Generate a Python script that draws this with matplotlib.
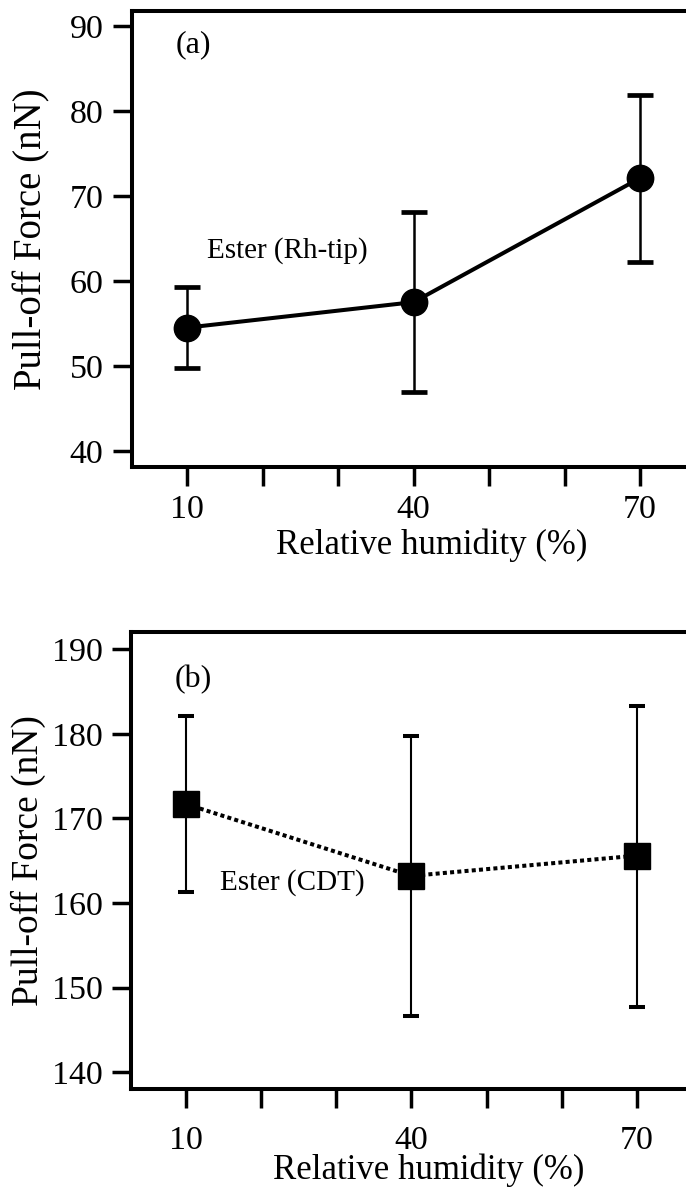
import matplotlib
matplotlib.use("Agg")
import matplotlib.pyplot as plt
import numpy as np

# ---- data ----
humidity = [10, 40, 70]
xtick_positions = [10, 20, 30, 40, 50, 60, 70]
xtick_labels = ["10", "", "", "40", "", "", "70"]

rh_mean = [54.5, 57.5, 72.1]
rh_low = [49.8, 46.9, 62.2]
rh_high = [59.3, 68.1, 81.9]
rh_yticks = [40, 50, 60, 70, 80, 90]

cdt_mean = [171.7, 163.2, 165.6]
cdt_low = [161.3, 146.6, 147.7]
cdt_high = [182.1, 179.8, 183.3]
cdt_yticks = [140, 150, 160, 170, 180, 190]

plt.rcParams['font.family'] = ['Liberation Serif', 'DejaVu Serif']
TICK_FS = 24.5
XLAB_FS = 25
ANN_FS = 21

fig = plt.figure(figsize=(6.86, 11.87), dpi=100)

def style_axes(ax, xpad):
    for s in ax.spines.values():
        s.set_linewidth(2.9)
    ax.tick_params(axis='both', direction='out', length=13.5, width=2.5,
                   labelsize=TICK_FS)
    ax.tick_params(axis='y', pad=7)
    ax.tick_params(axis='x', pad=xpad)
    ax.set_xticks(xtick_positions)
    ax.set_xticklabels(xtick_labels)
    ax.set_xlim(2.7, 80)

# ---- panel (a) ----
ax1 = fig.add_axes([0.1924, 0.6066, 0.8508, 0.3844])
style_axes(ax1, 6.5)
m = np.array(rh_mean)
yerr = [m - np.array(rh_low), np.array(rh_high) - m]
ax1.plot(humidity, rh_mean, color='black', lw=2.9, zorder=2)
ax1.errorbar(humidity, rh_mean, yerr=yerr, fmt='o', color='black',
             markersize=19, ecolor='black', elinewidth=1.8, capsize=9.7,
             capthick=3.4, zorder=3)
ax1.set_ylim(38.1, 91.8)
ax1.set_yticks(rh_yticks)
ax1.set_ylabel("Pull-off Force (nN)", fontsize=28, va='center')
ax1.yaxis.set_label_coords(-0.172, 0.5)
ax1.set_xlabel("Relative humidity (%)", fontsize=XLAB_FS)
ax1.xaxis.set_label_coords(0.514, -0.172)
ax1.xaxis.label.set_va('center')
ax1.text(8.5, 87.8, "(a)", fontsize=23, va='center', ha='left')
ax1.text(12.6, 63.6, "Ester (Rh-tip)", fontsize=ANN_FS, va='center', ha='left')

# ---- panel (b) ----
ax2 = fig.add_axes([0.191, 0.0826, 0.847, 0.3853])
style_axes(ax2, 13)
m2 = np.array(cdt_mean)
yerr2 = [m2 - np.array(cdt_low), np.array(cdt_high) - m2]
ax2.plot(humidity, cdt_mean, color='black', lw=2.9, linestyle=(0, (1, 0.8)),
         dash_capstyle='butt', zorder=2)
ax2.errorbar(humidity, cdt_mean, yerr=yerr2, fmt='s', color='black',
             markersize=19, ecolor='black', elinewidth=1.5, capsize=5.8,
             capthick=2.9, zorder=3)
ax2.set_ylim(138.0, 192.1)
ax2.set_yticks(cdt_yticks)
ax2.set_ylabel("Pull-off Force (nN)", fontsize=27, va='center')
ax2.yaxis.set_label_coords(-0.177, 0.5)
ax2.set_xlabel("Relative humidity (%)", fontsize=XLAB_FS)
ax2.xaxis.set_label_coords(0.512, -0.178)
ax2.xaxis.label.set_va('center')
ax2.text(8.5, 186.4, "(b)", fontsize=23, va='center', ha='left')
ax2.text(14.5, 162.4, "Ester (CDT)", fontsize=ANN_FS, va='center', ha='left')

fig.savefig("out.png", dpi=100)
